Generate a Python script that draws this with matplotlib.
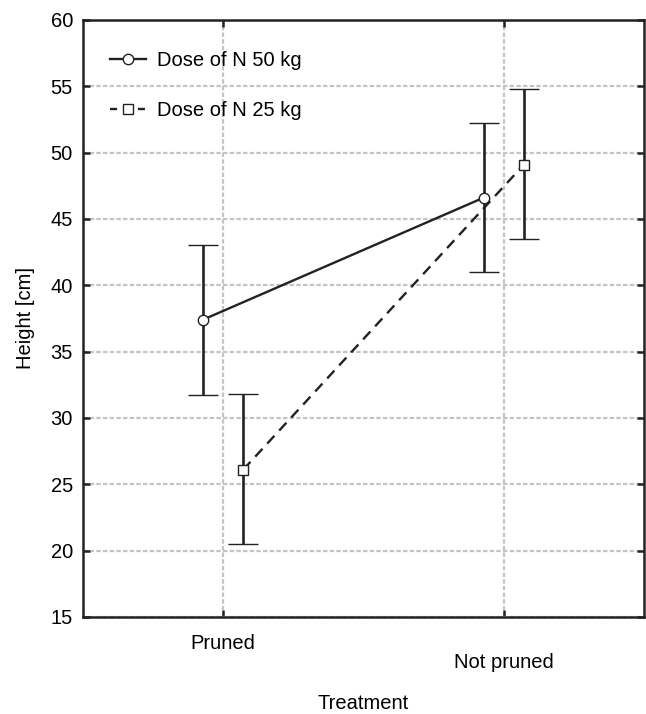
import numpy as np
import matplotlib
matplotlib.use('Agg')
import matplotlib.pyplot as plt
from matplotlib.lines import Line2D

plt.rcParams['font.family'] = ['Liberation Sans', 'DejaVu Sans']

treatments = ['Pruned', 'Not pruned']
series = ['Dose of N 50 kg', 'Dose of N 25 kg']
means_50 = [37.4, 46.6]
lower_50 = [31.7, 41.0]
upper_50 = [43.0, 52.2]
means_25 = [26.1, 49.1]
lower_25 = [20.5, 43.5]
upper_25 = [31.8, 54.8]

ink = '#222222'
fs = 14.5
fig, ax = plt.subplots(figsize=(6.46, 7.14), dpi=100)
fig.subplots_adjust(left=0.128, right=0.997, top=0.972, bottom=0.136)

x = np.arange(len(treatments))
offset = 0.072

# 50 kg - solid line, circles
m = np.array(means_50)
yerr = [m - np.array(lower_50), np.array(upper_50) - m]
ax.errorbar(x - offset, m, yerr=yerr, color=ink, lw=1.7, marker='o', ms=7.5,
            mfc='white', mec=ink, mew=1.0, capsize=11, capthick=2.0,
            elinewidth=1.9, label=series[0], zorder=3)

# 25 kg - dashed line, squares
m = np.array(means_25)
yerr = [m - np.array(lower_25), np.array(upper_25) - m]
ax.errorbar(x + offset, m, yerr=yerr, color=ink, lw=1.7, marker='s', ms=7,
            mfc='white', mec=ink, mew=1.0, capsize=11, capthick=2.0,
            elinewidth=1.9, ls=(0, (4.5, 3)), label=series[1], zorder=3)

ax.set_xlim(-0.5, 1.5)
ax.set_ylim(15, 60)
ax.set_yticks(np.arange(15, 61, 5))
ax.set_xticks(x)
ax.set_xticklabels(['Pruned', '\nNot pruned'])
for lab in ax.get_xticklabels():
    lab.set_linespacing(1.0)

ax.grid(True, color='#c4c4c4', ls=(0, (2, 1)), lw=1.6)
ax.set_axisbelow(True)
for s in ax.spines.values():
    s.set_linewidth(1.8)
    s.set_color(ink)
ax.tick_params(direction='in', length=5, width=1.8, color=ink, top=True, right=True,
               labelsize=fs, pad=7)
ax.tick_params(axis='x', pad=12)

ax.set_ylabel('Height [cm]', fontsize=fs, labelpad=11)
ax.set_xlabel('Treatment', fontsize=fs, labelpad=16)

# legend handles without error bars
handles = [Line2D([], [], color=ink, lw=1.7, marker='o', ms=7.5, mfc='white', mec=ink),
           Line2D([], [], color=ink, lw=1.7, marker='s', ms=7, mfc='white', mec=ink,
                  ls=(0, (3.0, 8.8)))]
ax.legend(handles, series, loc='upper left', frameon=False, fontsize=fs,
          handlelength=1.75, handletextpad=0.55, labelspacing=1.55,
          bbox_to_anchor=(0.017, 0.978))

fig.savefig('out.png', dpi=100)
